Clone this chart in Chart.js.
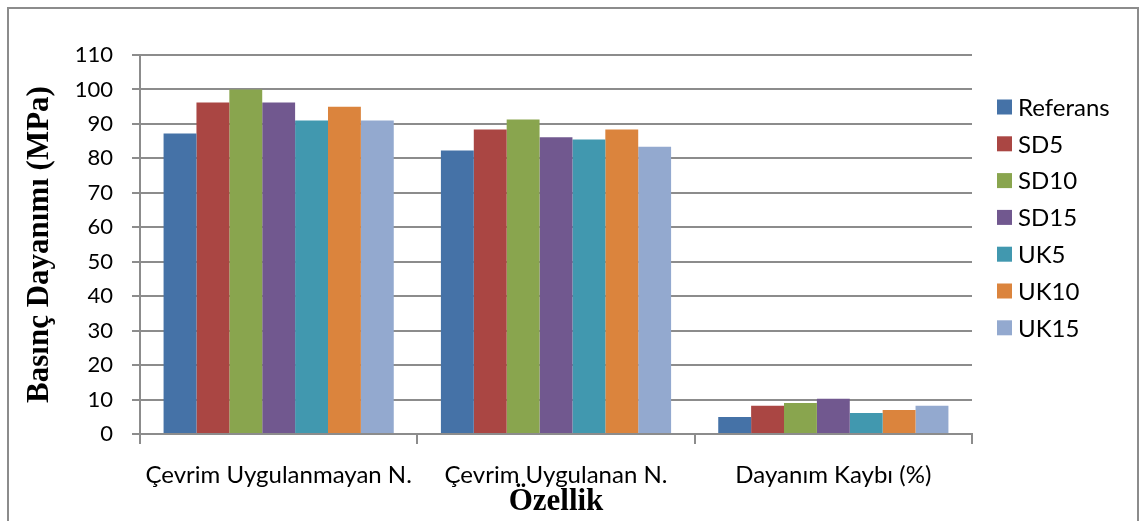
<!DOCTYPE html>
<html>
<head>
<meta charset="utf-8">
<script src="https://cdn.jsdelivr.net/npm/chart.js@4.4.1/dist/chart.umd.min.js"></script>
<style>
  body { margin: 0; background: #fff; }
  #frame {
    position: absolute; left: 7px; top: 7px; width: 1132px; height: 540px;
    border: 2px solid #8c8c8c; box-sizing: border-box; pointer-events: none;
  }
  #chart { position: absolute; left: 0; top: 0; }
</style>
</head>
<body>
<div id="frame"></div>
<canvas id="chart" width="1142" height="521"></canvas>
<script>
const categories = ["Çevrim Uygulanmayan N.", "Çevrim Uygulanan N.", "Dayanım Kaybı (%)"];
const seriesNames = ["Referans", "SD5", "SD10", "SD15", "UK5", "UK10", "UK15"];
const referans = [87.2, 82.3, 4.9];
const sd5 = [96.2, 88.4, 8.2];
const sd10 = [100, 91.3, 9.0];
const sd15 = [96.2, 86.1, 10.2];
const uk5 = [91.0, 85.5, 6.1];
const uk10 = [95.0, 88.4, 7.0];
const uk15 = [91.0, 83.4, 8.2];
const yTicks = [0, 10, 20, 30, 40, 50, 60, 70, 80, 90, 100, 110];

const colors = ["#4572A7", "#AA4643", "#89A54E", "#71588F", "#4198AF", "#DB843D", "#93A9CF"];
const values = [referans, sd5, sd10, sd15, uk5, uk10, uk15];

// legend drawn by hand so it sits where the original one does
const sideLegend = {
    id: "sideLegend",
    afterDraw(chart) {
        const ctx = chart.ctx;
        ctx.save();
        ctx.font = "24px Lato";
        ctx.textBaseline = "middle";
        ctx.textAlign = "left";
        chart.data.datasets.forEach((ds, i) => {
            const y = 107 + i * 36.8;
            ctx.fillStyle = ds.backgroundColor;
            ctx.fillRect(997, y - 7.5, 15, 15);
            ctx.fillStyle = "#000";
            ctx.fillText(ds.label, 1018, y + 1);
        });
        ctx.restore();
    }
};

new Chart(document.getElementById("chart"), {
    type: "bar",
    data: {
        labels: categories,
        datasets: seriesNames.map((name, i) => ({
            label: name,
            data: values[i],
            backgroundColor: colors[i],
            borderWidth: 0,
            barPercentage: 1,
            categoryPercentage: 0.83
        }))
    },
    options: {
        responsive: false,
        animation: false,
        devicePixelRatio: 1,
        layout: { padding: { left: 10, top: 55, right: 170, bottom: 0 } },
        plugins: {
            legend: { display: false },
            tooltip: { enabled: false }
        },
        scales: {
            x: {
                afterFit: function(scale) { scale.height = 87; },
                grid: {
                    offset: true,
                    drawOnChartArea: false,
                    drawTicks: true,
                    tickLength: 10,
                    color: "#8c8c8c",
                    lineWidth: 2
                },
                border: { color: "#8c8c8c", width: 2 },
                ticks: {
                    color: "#000",
                    font: { family: "Lato", size: 24 },
                    padding: 17,
                    maxRotation: 0
                },
                title: {
                    display: true,
                    text: "Özellik",
                    color: "#000",
                    font: { family: "Liberation Serif", size: 31, weight: "bold" },
                    padding: { top: 0, bottom: 0 }
                }
            },
            y: {
                min: 0,
                max: 110,
                afterFit: function(scale) { scale.width = 130; },
                afterBuildTicks: function(scale) {
                    scale.ticks = yTicks.map(v => ({ value: v }));
                },
                grid: {
                    color: "#8c8c8c",
                    lineWidth: 2,
                    tickLength: 8
                },
                border: { color: "#8c8c8c", width: 2 },
                ticks: {
                    color: "#000",
                    font: { family: "Lato", size: 22 },
                    padding: 19
                },
                title: {
                    display: true,
                    text: "Basınç Dayanımı (MPa)",
                    color: "#000",
                    font: { family: "Liberation Serif", size: 31, weight: "bold" },
                    padding: { top: 11, bottom: 0 }
                }
            }
        }
    },
    plugins: [sideLegend]
});
</script>
</body>
</html>
